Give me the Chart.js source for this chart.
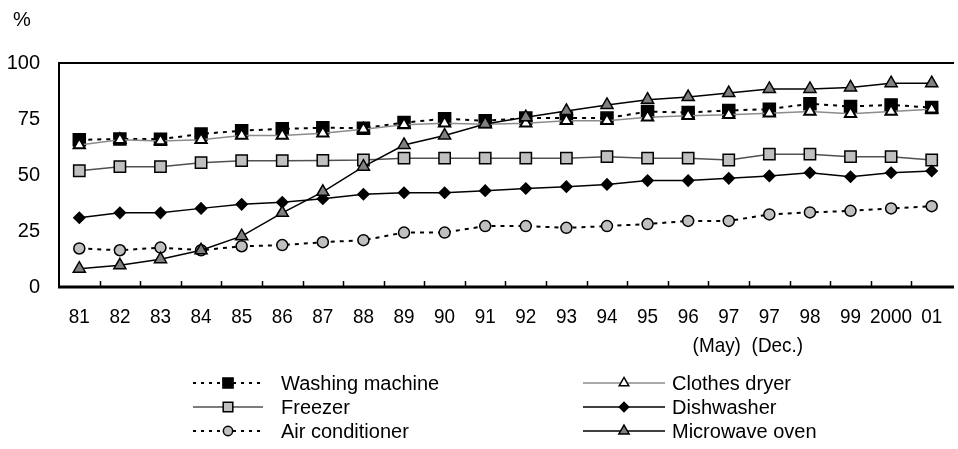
<!DOCTYPE html>
<html>
<head>
<meta charset="utf-8">
<script src="https://cdn.jsdelivr.net/npm/chart.js@4/dist/chart.umd.min.js"></script>
<style>
  html, body { margin: 0; padding: 0; background: #fff; overflow: hidden; }
  #wrap { width: 962px; height: 449px; }
</style>
</head>
<body>
<div id="wrap"><canvas id="chart_1"></canvas></div>
<script>
// survey years (two readings in 1997)
const years = ['81', '82', '83', '84', '85', '86', '87', '88', '89', '90', '91', '92', '93', '94', '95', '96',
  ['97', '(May)'], ['97', '(Dec.)'], '98', '99', '2000', '01'];

// ownership rate, %
const washingMachine = [65.7, 66.1, 66.0, 68.3, 69.8, 70.6, 71.1, 70.9, 73.4, 75.1, 74.2, 75.4, 75.4, 75.4, 78.3, 77.9, 78.8, 79.4, 81.8, 80.6, 81.3, 80.1];
const clothesDryer = [63.4, 65.7, 65.2, 65.7, 67.6, 67.6, 68.6, 70.4, 72.4, 73.1, 72.7, 73.1, 74.2, 74.2, 75.8, 76.4, 76.9, 77.6, 78.3, 77.3, 78.3, 79.4];
const freezer = [51.9, 53.7, 53.7, 55.5, 56.4, 56.4, 56.5, 56.7, 57.5, 57.5, 57.5, 57.5, 57.5, 58.2, 57.5, 57.5, 56.7, 59.3, 59.3, 58.2, 58.2, 56.7];
const dishwasher = [30.9, 33.1, 33.1, 35.1, 36.9, 37.8, 39.4, 41.4, 42.1, 42.1, 43.0, 44.0, 44.8, 45.8, 47.5, 47.5, 48.5, 49.6, 51.0, 49.2, 51.0, 51.8];
const airConditioner = [17.2, 16.4, 17.6, 16.4, 18.2, 18.7, 20.0, 20.9, 24.3, 24.3, 27.2, 27.2, 26.4, 27.2, 28.1, 29.5, 29.5, 32.4, 33.3, 34.0, 35.1, 36.1];
const microwaveOven = [8.2, 9.7, 12.4, 16.4, 22.7, 33.1, 42.5, 53.7, 63.4, 67.6, 72.8, 75.8, 78.6, 81.3, 83.6, 84.8, 86.6, 88.4, 88.4, 89.1, 91.0, 91.0];

const yTicks = [0, 25, 50, 75, 100];

const FONT = "'Liberation Sans', Arial, sans-serif";

// legend slots: [line start, line length, text x, row y]
const legendSlots = [
  [193, 70, 281, 383], [583, 82, 672, 383],
  [193, 70, 281, 407], [583, 82, 672, 407],
  [193, 70, 281, 431], [583, 82, 672, 431],
];

function series(label, data, o) {
  return Object.assign({
    label: label,
    data: data,
    borderWidth: 1.5,
    pointBorderWidth: 1.5,
    pointBorderColor: "#000",
    pointHoverRadius: 6,
    tension: 0,
    fill: false,
  }, o);
}

// x labels are drawn condensed, so the two 1997 sub-labels do not collide
const xLabelPlugin = {
  id: "xlabels",
  afterDraw(chart) {
    const ctx = chart.ctx;
    const x = chart.scales.x;
    const a = chart.chartArea;
    const squeeze = 0.9;
    const subShift = { 16: -12, 17: 8 };
    ctx.save();
    ctx.fillStyle = "#000";
    ctx.font = "21px " + FONT;
    ctx.textAlign = "center";
    ctx.textBaseline = "middle";
    years.forEach((lab, i) => {
      const lines = Array.isArray(lab) ? lab : [lab];
      const cx = x.getPixelForValue(i);
      lines.forEach((t, j) => {
        const px = cx + (j > 0 ? (subShift[i] || 0) : 0);
        ctx.save();
        ctx.translate(px, a.bottom + 30 + j * 29);
        ctx.scale(squeeze, 1);
        ctx.fillText(t, 0, 0);
        ctx.restore();
      });
    });
    ctx.restore();
  },
};

const framePlugin = {
  id: "frame",
  afterDatasetsDraw(chart) {
    const ctx = chart.ctx;
    const a = chart.chartArea;
    const x = chart.scales.x;

    ctx.save();
    ctx.strokeStyle = "#000";
    ctx.lineWidth = 2;
    ctx.beginPath();
    ctx.moveTo(a.right + 2, a.top);
    ctx.lineTo(a.left, a.top);
    ctx.lineTo(a.left, a.bottom);
    ctx.stroke();
    ctx.lineWidth = 3;
    ctx.beginPath();
    ctx.moveTo(a.left - 1, a.bottom);
    ctx.lineTo(a.right + 2, a.bottom);
    ctx.stroke();

    // small ticks between categories, pointing up
    const step = x.getPixelForValue(1) - x.getPixelForValue(0);
    ctx.lineWidth = 1.5;
    for (let i = 1; i < years.length; i++) {
      const px = Math.round(x.getPixelForValue(i) - step / 2) + 0.5;
      ctx.beginPath();
      ctx.moveTo(px, a.bottom);
      ctx.lineTo(px, a.bottom - 6);
      ctx.stroke();
    }
    ctx.restore();
  },
  afterDraw(chart) {
    const ctx = chart.ctx;
    ctx.save();
    ctx.fillStyle = "#000";
    ctx.font = "20px " + FONT;
    ctx.textBaseline = "middle";
    ctx.textAlign = "left";
    ctx.fillText("%", 13, 20);

    // two-column legend
    chart.data.datasets.forEach((ds, i) => {
      const [lx, len, tx, ly] = legendSlots[i];
      ctx.save();
      ctx.strokeStyle = ds.borderColor;
      ctx.lineWidth = ds.borderWidth;
      ctx.setLineDash(ds.borderDash ? [3, 5] : []);
      ctx.beginPath();
      ctx.moveTo(lx, ly);
      ctx.lineTo(lx + len, ly);
      ctx.stroke();
      ctx.setLineDash([]);
      ctx.fillStyle = ds.pointBackgroundColor;
      ctx.strokeStyle = ds.pointBorderColor;
      ctx.lineWidth = 1.5;
      Chart.helpers.drawPoint(ctx, {
        pointStyle: ds.pointStyle,
        radius: ds.pointRadius * 0.85,
        rotation: 0,
        borderWidth: 1.5,
      }, lx + len / 2, ly);
      ctx.restore();

      ctx.fillStyle = "#000";
      ctx.font = "20px " + FONT;
      ctx.textBaseline = "middle";
      ctx.fillText(ds.label, tx, ly + 1);
    });
    ctx.restore();
  },
};

const ctx = document.getElementById("chart_1").getContext("2d");

window.myChart = new Chart(ctx, {
  type: "line",
  data: {
    labels: years,
    datasets: [
      series("Washing machine", washingMachine, {
        borderColor: "#000",
        borderWidth: 2,
        borderDash: [4, 5],
        pointStyle: "rect",
        pointRadius: 8.5,
        pointBackgroundColor: "#000",
        order: 6,
      }),
      series("Clothes dryer", clothesDryer, {
        borderColor: "#8c8c8c",
        pointStyle: "triangle",
        pointRadius: 6.5,
        pointBackgroundColor: "#fff",
        pointBorderWidth: 2,
        order: 5,
      }),
      series("Freezer", freezer, {
        borderColor: "#505050",
        pointStyle: "rect",
        pointRadius: 8,
        pointBackgroundColor: "#c0c0c0",
        order: 4,
      }),
      series("Dishwasher", dishwasher, {
        borderColor: "#000",
        pointStyle: "rectRot",
        pointRadius: 5.5,
        pointBackgroundColor: "#000",
        order: 3,
      }),
      series("Air conditioner", airConditioner, {
        borderColor: "#000",
        borderWidth: 2,
        borderDash: [4, 5],
        pointStyle: "circle",
        pointRadius: 5.5,
        pointBackgroundColor: "#c0c0c0",
        order: 2,
      }),
      series("Microwave oven", microwaveOven, {
        borderColor: "#000",
        pointStyle: "triangle",
        pointRadius: 7,
        pointBackgroundColor: "#808080",
        order: 1,
      }),
    ],
  },
  options: {
    responsive: true,
    maintainAspectRatio: false,
    animation: false,
    layout: {
      padding: { top: 63, right: 1, bottom: 0, left: 0 },
    },
    scales: {
      x: {
        offset: true,
        grid: { display: false },
        border: { display: false },
        ticks: { display: false },
        afterFit: (s) => { s.height = 162; },
      },
      y: {
        min: 0,
        max: 100,
        afterBuildTicks: (s) => { s.ticks = yTicks.map((v) => ({ value: v })); },
        grid: { display: false },
        border: { display: false },
        ticks: {
          color: "#000",
          padding: 11,
          font: { family: FONT, size: 20 },
        },
        afterFit: (s) => { s.width = 59; },
      },
    },
    plugins: {
      legend: { display: false },
      title: { display: false },
      tooltip: { enabled: false },
    },
  },
  plugins: [framePlugin, xLabelPlugin],
});
</script>
</body>
</html>
